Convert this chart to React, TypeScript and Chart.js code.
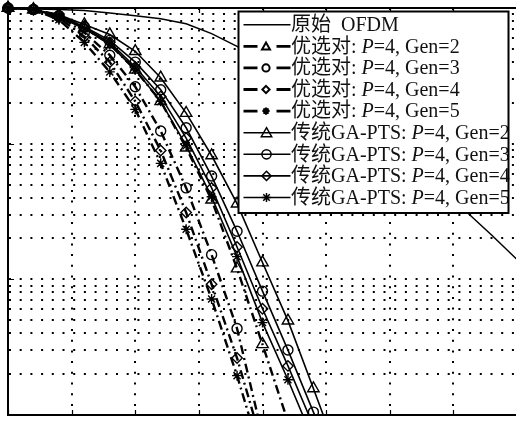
import React, { useEffect, useRef } from "react";
import { Chart, registerables } from "chart.js";

Chart.register(...registerables);

// PAPR0 (dB) sample points
const PAPR_DB = [6.0, 6.2, 6.4, 6.6, 6.8, 7.0, 7.2, 7.4, 7.6, 7.8, 8.0, 8.2, 8.4, 8.6];
const OFDM_DB = [6.0, 6.2, 6.4, 6.6, 6.8, 7.0, 7.2, 7.4, 7.6, 7.8, 8.0, 8.2, 8.4, 8.6, 8.8, 9.0, 9.2, 9.4, 9.6, 9.8, 10.0];

// CCDF values
const ORIGINAL_OFDM = [0.992, 0.983, 0.975, 0.959, 0.92, 0.875, 0.832, 0.766, 0.648, 0.522, 0.413, 0.321, 0.242, 0.179, 0.131, 0.0935, 0.0659, 0.0456, 0.0316, 0.0212, 0.014];

const PREF_GEN2 = [1, 0.975, 0.89, 0.716, 0.539, 0.35, 0.205, 0.0935, 0.0386, 0.012, 0.00332, 0.00089];
const PREF_GEN3 = [1, 0.975, 0.875, 0.659, 0.449, 0.263, 0.124, 0.0472, 0.0152, 0.00434, 0.000705];
const PREF_GEN4 = [1, 0.975, 0.846, 0.616, 0.399, 0.205, 0.089, 0.0311, 0.0092, 0.00263, 0.000596];
const PREF_GEN5 = [1, 0.975, 0.819, 0.558, 0.338, 0.179, 0.0716, 0.0234, 0.00716, 0.00195, 0.000464];

const GA_GEN2 = [1, 0.975, 0.89, 0.757, 0.637, 0.48, 0.306, 0.168, 0.0818, 0.0361, 0.0133, 0.00496, 0.00157, 0.00049];
const GA_GEN3 = [1, 0.975, 0.875, 0.728, 0.577, 0.399, 0.25, 0.131, 0.0577, 0.0226, 0.00818, 0.00301, 0.00105, 0.00036];
const GA_GEN4 = [1, 0.975, 0.861, 0.716, 0.558, 0.367, 0.223, 0.11, 0.0472, 0.0173, 0.00607, 0.0023, 0.00083];
const GA_GEN5 = [1, 0.975, 0.861, 0.704, 0.539, 0.35, 0.205, 0.0967, 0.0406, 0.0147, 0.0048, 0.00182, 0.00065];

const X_TICKS = [6, 6.5, 7, 7.5, 8, 8.5, 9, 9.5, 10];
const Y_DECADES = [0.001, 0.01, 0.1, 1];
const Y_TICKS = [
  0.001, 0.002, 0.003, 0.004, 0.005, 0.006, 0.007, 0.008, 0.009,
  0.01, 0.02, 0.03, 0.04, 0.05, 0.06, 0.07, 0.08, 0.09,
  0.1, 0.2, 0.3, 0.4, 0.5, 0.6, 0.7, 0.8, 0.9, 1,
];

const LEGEND_LABELS = [
  "原始  OFDM",
  "优选对: P=4, Gen=2",
  "优选对: P=4, Gen=3",
  "优选对: P=4, Gen=4",
  "优选对: P=4, Gen=5",
  "传统GA-PTS: P=4, Gen=2",
  "传统GA-PTS: P=4, Gen=3",
  "传统GA-PTS: P=4, Gen=4",
  "传统GA-PTS: P=4, Gen=5",
];

type Kind = "plain" | "pref" | "ga";
interface SeriesDef {
  label: string;
  xs: number[];
  ys: number[];
  kind: Kind;
  marker?: string;
}

const SERIES: SeriesDef[] = [
  { label: LEGEND_LABELS[0], xs: OFDM_DB, ys: ORIGINAL_OFDM, kind: "plain" },
  { label: LEGEND_LABELS[1], xs: PAPR_DB, ys: PREF_GEN2, kind: "pref", marker: "triangle" },
  { label: LEGEND_LABELS[2], xs: PAPR_DB, ys: PREF_GEN3, kind: "pref", marker: "circle" },
  { label: LEGEND_LABELS[3], xs: PAPR_DB, ys: PREF_GEN4, kind: "pref", marker: "rectRot" },
  { label: LEGEND_LABELS[4], xs: PAPR_DB, ys: PREF_GEN5, kind: "pref", marker: "star" },
  { label: LEGEND_LABELS[5], xs: PAPR_DB, ys: GA_GEN2, kind: "ga", marker: "triangle" },
  { label: LEGEND_LABELS[6], xs: PAPR_DB, ys: GA_GEN3, kind: "ga", marker: "circle" },
  { label: LEGEND_LABELS[7], xs: PAPR_DB, ys: GA_GEN4, kind: "ga", marker: "rectRot" },
  { label: LEGEND_LABELS[8], xs: PAPR_DB, ys: GA_GEN5, kind: "ga", marker: "star" },
];

const DASH_DOT = [9, 4, 2, 4];
const FONT_FAMILY = "'Liberation Serif', 'Times New Roman', 'Noto Sans CJK SC', serif";

function markerRadius(m?: string) {
  if (m === "triangle") return 6.6;
  if (m === "circle") return 5;
  if (m === "rectRot") return 5.2;
  return 5;
}

function drawMarker(ctx: CanvasRenderingContext2D, style: string, x: number, y: number, r: number) {
  ctx.beginPath();
  if (style === "triangle") {
    ctx.moveTo(x, y - r);
    ctx.lineTo(x + r * 0.866, y + r * 0.5);
    ctx.lineTo(x - r * 0.866, y + r * 0.5);
    ctx.closePath();
  } else if (style === "circle") {
    ctx.arc(x, y, r, 0, Math.PI * 2);
  } else if (style === "rectRot") {
    ctx.moveTo(x, y - r);
    ctx.lineTo(x + r, y);
    ctx.lineTo(x, y + r);
    ctx.lineTo(x - r, y);
    ctx.closePath();
  } else if (style === "star") {
    for (let k = 0; k < 4; k++) {
      const a = (k * Math.PI) / 4;
      ctx.moveTo(x - r * Math.cos(a), y - r * Math.sin(a));
      ctx.lineTo(x + r * Math.cos(a), y + r * Math.sin(a));
    }
  }
  ctx.stroke();
}

function drawLabel(ctx: CanvasRenderingContext2D, label: string, x: number, y: number) {
  const normal = `20px ${FONT_FAMILY}`;
  const italic = `italic 20px ${FONT_FAMILY}`;
  const idx = label.indexOf("P=");
  if (idx < 0) {
    ctx.font = normal;
    ctx.fillText(label, x, y);
    return;
  }
  const a = label.slice(0, idx);
  const b = "P";
  const c = label.slice(idx + 1);
  ctx.font = normal;
  ctx.fillText(a, x, y);
  x += ctx.measureText(a).width;
  ctx.font = italic;
  ctx.fillText(b, x, y);
  x += ctx.measureText(b).width;
  ctx.font = normal;
  ctx.fillText(c, x, y);
}

const framePlugin = {
  id: "matlabFrame",
  afterDraw(chart: any) {
    const ctx: CanvasRenderingContext2D = chart.ctx;
    const { left, right, top, bottom } = chart.chartArea;
    const xs = chart.scales.x;
    const ys = chart.scales.y;
    ctx.save();
    ctx.strokeStyle = "#000";
    ctx.setLineDash([]);
    // top border
    ctx.lineWidth = 2;
    ctx.beginPath();
    ctx.moveTo(left, top);
    ctx.lineTo(right, top);
    ctx.stroke();
    // inside ticks
    ctx.lineWidth = 1.2;
    ctx.beginPath();
    X_TICKS.forEach((v) => {
      const px = Math.round(xs.getPixelForValue(v)) + 0.5;
      ctx.moveTo(px, bottom);
      ctx.lineTo(px, bottom - 5);
      ctx.moveTo(px, top);
      ctx.lineTo(px, top + 5);
    });
    Y_TICKS.forEach((v) => {
      const py = Math.round(ys.getPixelForValue(v)) + 0.5;
      const len = Y_DECADES.includes(v) ? 6 : 3;
      ctx.moveTo(left, py);
      ctx.lineTo(left + len, py);
    });
    ctx.stroke();

    // legend box
    const L = right - 278.5;
    const T = top + 3.5;
    const W = 270;
    const H = 201.5;
    ctx.fillStyle = "#fff";
    ctx.fillRect(L, T, W, H);
    const rowH = 21.6;
    ctx.textBaseline = "middle";
    ctx.textAlign = "left";
    SERIES.forEach((s, i) => {
      const cy = T + 13.2 + i * rowH;
      const x0 = L + 5;
      const x1 = L + 52;
      ctx.strokeStyle = "#000";
      ctx.setLineDash([]);
      if (s.kind === "pref") {
        ctx.lineWidth = 2.8;
        ctx.beginPath();
        ctx.moveTo(x0, cy);
        ctx.lineTo(L + 19, cy);
        ctx.moveTo(L + 38, cy);
        ctx.lineTo(x1, cy);
        ctx.stroke();
        ctx.lineWidth = 2;
        drawMarker(ctx, s.marker as string, L + 27.5, cy + (s.marker === "triangle" ? 0.8 : 0), s.marker === "triangle" ? 4.6 : 3.6);
      } else {
        ctx.lineWidth = 1.6;
        ctx.beginPath();
        ctx.moveTo(x0, cy);
        ctx.lineTo(x1, cy);
        ctx.stroke();
        if (s.marker) {
          ctx.lineWidth = 1.5;
          drawMarker(ctx, s.marker, L + 28, cy + (s.marker === "triangle" ? 1 : 0), s.marker === "triangle" ? 6 : 4.6);
        }
      }
      ctx.fillStyle = "#111";
      drawLabel(ctx, s.label, x1 + 0.5, cy + 1);
    });
    ctx.strokeStyle = "#000";
    ctx.lineWidth = 2;
    ctx.setLineDash([]);
    ctx.strokeRect(L, T, W, H);
    ctx.restore();
  },
};

export default function App() {
  const ref = useRef<HTMLCanvasElement>(null);
  useEffect(() => {
    const datasets = SERIES.map((s) => {
      const base: any = {
        label: s.label,
        data: s.ys.map((y, i) => ({ x: s.xs[i], y })),
        borderColor: "#000",
        backgroundColor: "rgba(0,0,0,0)",
        fill: false,
        tension: 0,
        clip: { left: 12, top: 12, right: 12, bottom: 0 },
      };
      if (s.kind === "plain") {
        return { ...base, borderWidth: 1.5, pointRadius: 0 };
      }
      return {
        ...base,
        borderWidth: s.kind === "pref" ? 2.4 : 1.6,
        borderDash: s.kind === "pref" ? DASH_DOT : [],
        pointStyle: s.marker,
        pointRadius: markerRadius(s.marker),
        pointBorderWidth: 1.4,
        pointBorderColor: "#000",
        pointBackgroundColor: "rgba(0,0,0,0)",
      };
    });

    const gridCommon = {
      color: "#000",
      lineWidth: 2,
      drawTicks: false,
    };
    const borderCommon = {
      display: true,
      color: "#000",
      width: 2,
      dash: [2, 8.7],
    };

    const chart = new Chart(ref.current as HTMLCanvasElement, {
      type: "line",
      data: { datasets },
      options: {
        animation: false,
        responsive: false,
        events: [],
        layout: { padding: { left: 7, top: 5, right: 23, bottom: 4 } },
        plugins: { legend: { display: false }, tooltip: { enabled: false } },
        scales: {
          x: {
            type: "linear",
            min: 6,
            max: 10,
            afterBuildTicks: (axis: any) => {
              axis.ticks = X_TICKS.map((v) => ({ value: v }));
            },
            ticks: { display: false },
            grid: gridCommon,
            border: borderCommon,
          },
          y: {
            type: "logarithmic",
            min: 0.001,
            max: 1,
            afterBuildTicks: (axis: any) => {
              axis.ticks = Y_TICKS.map((v) => ({ value: v }));
            },
            ticks: { display: false },
            grid: gridCommon,
            border: borderCommon,
          },
        },
      } as any,
      plugins: [framePlugin],
    });
    return () => chart.destroy();
  }, []);

  return (
    <div
      style={{
        position: "absolute",
        left: 0,
        top: 0,
        width: 516,
        height: 423,
        overflow: "hidden",
        background: "#fff",
      }}
    >
      <canvas ref={ref} width={540} height={423} style={{ display: "block" }} />
    </div>
  );
}
